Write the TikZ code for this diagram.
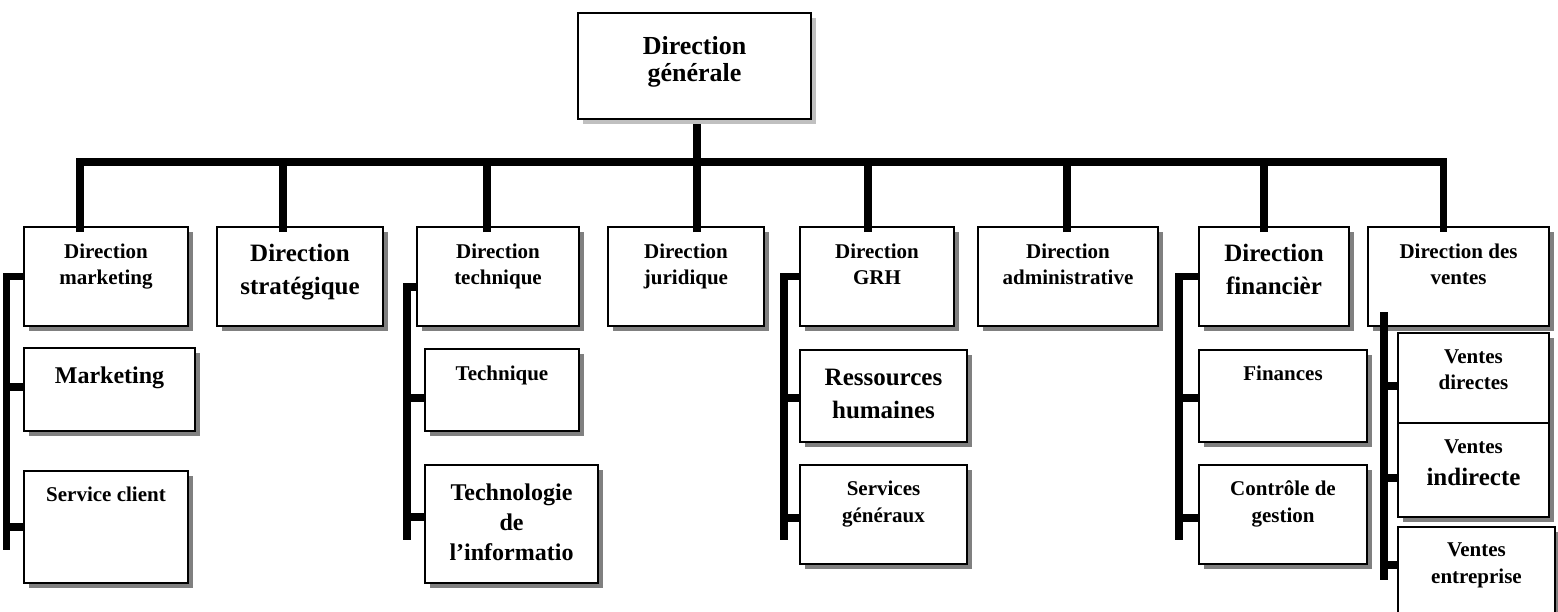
\documentclass[tikz,border=0pt]{standalone}
\usepackage{fontspec}
\setmainfont{Liberation Serif}
\usetikzlibrary{shadows}
\definecolor{shadowgray}{HTML}{808080}
\definecolor{topshadow}{HTML}{C0C0C0}
% centred lines whose baseline is that of the first line
\newcommand\orgstack[1]{\begin{tabular}[t]{@{}c@{}}#1\end{tabular}}
\begin{document}
\begin{tikzpicture}[x=1pt,y=-1pt,
  orgbox/.style={rectangle, draw=black, line width=1.8pt, fill=white, inner sep=0pt,
    drop shadow={shadow xshift=5pt, shadow yshift=-5pt, fill=#1, opacity=1}},
  orgbox/.default=shadowgray,
  orglabel/.style={inner sep=0pt, anchor=base, font=\bfseries\fontsize{21}{26}\selectfont},
  biglabel/.style={orglabel, font=\bfseries\fontsize{25}{33}\selectfont},
  bus/.style={line width=7.5pt, line join=miter, draw=black}]
\useasboundingbox (0,0) rectangle (1558,611);
\clip (0,0) rectangle (1558,611);

% general management
\draw[bus] (697,124) -- (697,162);
\node[orgbox=topshadow, minimum width=233pt, minimum height=106pt] (gen) at (694.5,66) {};
\node[orglabel, font=\bfseries\fontsize{26}{27}\selectfont] (genT) at ([yshift=-42pt]gen.north) {\orgstack{Direction\\générale}};

% directorates
\node[orgbox, minimum width=164pt, minimum height=99pt] (mkt) at (106,276.5) {};
\node[orgbox, minimum width=166pt, minimum height=99pt] (strat) at (300,276.5) {};
\node[orgbox, minimum width=162pt, minimum height=99pt] (tech) at (498,276.5) {};
\node[orgbox, minimum width=156pt, minimum height=99pt] (jur) at (686,276.5) {};
\node[orgbox, minimum width=154pt, minimum height=99pt] (grh) at (877,276.5) {};
\node[orgbox, minimum width=180pt, minimum height=99pt] (adm) at (1068,276.5) {};
\node[orgbox, minimum width=150pt, minimum height=99pt] (fin) at (1274,276.5) {};
\node[orgbox, minimum width=181pt, minimum height=99pt] (ven) at (1458.5,276.5) {};

\node[orglabel] (mktT) at ([yshift=-32pt]mkt.north) {\orgstack{Direction\\marketing}};
\node[biglabel] (stratT) at ([yshift=-35.5pt]strat.north) {\orgstack{Direction\\stratégique}};
\node[orglabel] (techT) at ([yshift=-32pt]tech.north) {\orgstack{Direction\\technique}};
\node[orglabel] (jurT) at ([yshift=-32pt]jur.north) {\orgstack{Direction\\juridique}};
\node[orglabel] (grhT) at ([yshift=-32pt]grh.north) {\orgstack{Direction\\GRH}};
\node[orglabel] (admT) at ([yshift=-32pt]adm.north) {\orgstack{Direction\\administrative}};
\node[biglabel] (finT) at ([yshift=-35.5pt]fin.north) {\orgstack{Direction\\financièr}};
\node[orglabel] (venT) at ([yshift=-32pt]ven.north) {\orgstack{Direction des\\ventes}};

% services
\node[orgbox, minimum width=171pt, minimum height=83pt] (marketing) at (109.5,389.5) {};
\node[orgbox, minimum width=164pt, minimum height=112pt] (svc) at (106,527) {};
\node[orgbox, minimum width=154pt, minimum height=82pt] (techn) at (502,390) {};
\node[orgbox, minimum width=173pt, minimum height=118pt] (ti) at (511.5,524) {};
\node[orgbox, minimum width=167pt, minimum height=92pt] (rh) at (883.5,396) {};
\node[orgbox, minimum width=167pt, minimum height=99pt] (sg) at (883.5,514.5) {};
\node[orgbox, minimum width=168pt, minimum height=92pt] (finances) at (1283,396) {};
\node[orgbox, minimum width=168pt, minimum height=99pt] (cg) at (1283,514.5) {};
\node[orgbox, minimum width=151pt, minimum height=90pt] (vd) at (1473.5,378) {};
\node[orgbox, minimum width=151pt, minimum height=94pt] (vi) at (1473.5,470) {};
\node[orgbox, minimum width=157pt, minimum height=113pt] (ve) at (1476.5,583.5) {};

\node[orglabel, font=\bfseries\fontsize{24}{30}\selectfont] (marketingT) at ([yshift=-36pt]marketing.north) {Marketing};
\node[orglabel] (svcT) at ([yshift=-31pt]svc.north) {Service client};
\node[orglabel] (technT) at ([yshift=-32pt]techn.north) {Technique};
\node[orglabel, font=\bfseries\fontsize{24}{30}\selectfont] (tiT) at ([yshift=-36pt]ti.north) {\orgstack{Technologie\\de\\l’informatio}};
\node[biglabel] (rhT) at ([yshift=-36.5pt]rh.north) {\orgstack{Ressources\\humaines}};
\node[orglabel, font=\bfseries\fontsize{21}{27}\selectfont] (sgT) at ([yshift=-31pt]sg.north) {\orgstack{Services\\généraux}};
\node[orglabel] (financesT) at ([yshift=-31pt]finances.north) {Finances};
\node[orglabel, font=\bfseries\fontsize{21}{27}\selectfont] (cgT) at ([yshift=-31pt]cg.north) {\orgstack{Contrôle de\\gestion}};
\node[orglabel] (vdT) at ([yshift=-31pt]vd.north) {\orgstack{Ventes\\directes}};
\node[orglabel] (viT) at ([yshift=-31pt]vi.north) {\orgstack{Ventes\\[6pt]{\fontsize{25}{33}\selectfont indirecte}}};
\node[orglabel, font=\bfseries\fontsize{21}{27}\selectfont] (veT) at ([yshift=-30pt]ve.north) {\orgstack{Ventes\\entreprise}};

% main bus and drops to the directorates
\coordinate (busL) at (80,162);
\coordinate (busR) at (1443.5,162);
\draw[bus] ([xshift=-26pt,yshift=-6pt]mkt.north) -- (busL) -- (busR) -- ([xshift=-15pt,yshift=-6pt]ven.north);
\draw[bus] ([xshift=-17pt,yshift=-6pt]strat.north) -- ++(0,-71);
\draw[bus] ([xshift=-11pt,yshift=-6pt]tech.north) -- ++(0,-71);
\draw[bus] ([xshift=11pt,yshift=-6pt]jur.north) -- ++(0,-71);
\draw[bus] ([xshift=-9pt,yshift=-6pt]grh.north) -- ++(0,-71);
\draw[bus] ([xshift=-1pt,yshift=-6pt]adm.north) -- ++(0,-71);
\draw[bus] ([xshift=-10pt,yshift=-6pt]fin.north) -- ++(0,-71);

% marketing branch
\coordinate (sM1) at (6.5,276.5);
\coordinate (sM2) at (6.5,550);
\draw[bus] (mkt.west) -- (sM1) -- (sM2);
\draw[bus] ([yshift=2.5pt]marketing.west) -- ++(-17.5,0);
\draw[bus] (svc.west) -- (svc.west -| sM1);

% technical branch
\coordinate (sT1) at (407,287);
\coordinate (sT2) at (407,540);
\draw[bus] ([yshift=-10.5pt]tech.west) -- (sT1) -- (sT2);
\draw[bus] ([yshift=-8pt]techn.west) -- ++(-18,0);
\draw[bus] ([yshift=7pt]ti.west) -- ++(-18,0);

% human resources branch
\coordinate (sG1) at (784,276.5);
\coordinate (sG2) at (784,540);
\draw[bus] (grh.west) -- (sG1) -- (sG2);
\draw[bus] ([yshift=-2pt]rh.west) -- ++(-16,0);
\draw[bus] ([yshift=-3.5pt]sg.west) -- ++(-16,0);

% finance branch
\coordinate (sF1) at (1179,276.5);
\coordinate (sF2) at (1179,540);
\draw[bus] (fin.west) -- (sF1) -- (sF2);
\draw[bus] ([yshift=-2pt]finances.west) -- ++(-20,0);
\draw[bus] ([yshift=-3.5pt]cg.west) -- ++(-20,0);

% sales branch
\coordinate (sV1) at (1384,312);
\coordinate (sV2) at (1384,580);
\draw[bus] (sV1) -- (sV2);
\draw[bus] ([yshift=-8pt]vd.west) -- ++(-14,0);
\draw[bus] ([yshift=-8pt]vi.west) -- ++(-14,0);
\draw[bus] ([yshift=18.5pt]ve.west) -- ++(-14,0);
\end{tikzpicture}
\end{document}
